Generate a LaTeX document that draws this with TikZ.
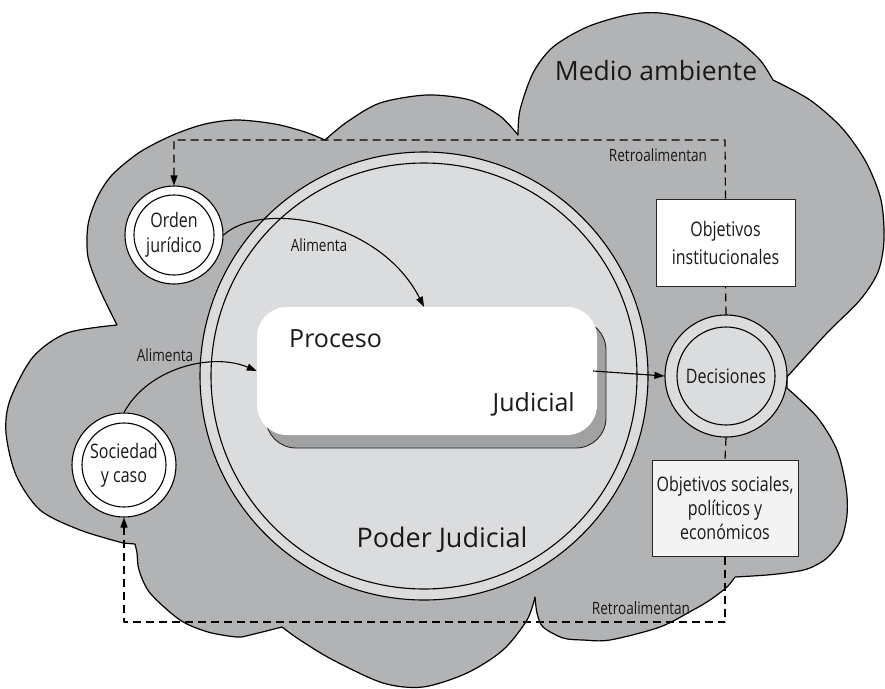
\documentclass[tikz,border=0pt]{standalone}
\usepackage{fontspec}
\setmainfont{Open Sans}
\newfontfamily\condfont{Open Sans}[FakeStretch=0.8]
\usetikzlibrary{arrows.meta,shadows}

\definecolor{cloudgray}{RGB}{178,179,181}
\definecolor{palegray}{RGB}{219,220,222}
\definecolor{shadowgray}{RGB}{160,161,163}
\definecolor{boxlight}{RGB}{243,243,243}
\definecolor{ink}{RGB}{25,25,25}

\begin{document}
\begin{tikzpicture}[x=1pt, y=-1pt, line join=round,
  outline/.style={draw=black, line width=1.1pt},
  ring/.style={circle, outline, inner sep=0pt},
  bigtxt/.style={font=\fontsize{25}{29}\selectfont, text=ink, inner sep=0pt},
  smalltxt/.style={font=\condfont\fontsize{20}{25}\selectfont, text=ink, align=center, inner sep=0pt},
  tinytxt/.style={font=\condfont\fontsize{17}{20}\selectfont, text=ink, inner sep=0pt},
  goalbox/.style={rectangle, draw=black!85, line width=1pt, align=center, inner sep=0pt,
    font=\condfont\fontsize{20}{25}\selectfont, text=ink},
  fb/.style={draw=black, line width=1.2pt, dash pattern=on 8pt off 5pt},
  tip/.style={-{Triangle[length=10pt,width=7pt]}},
  feed/.style={draw=black, line width=1.1pt, -{Triangle[length=10pt,width=7pt]}}]

\useasboundingbox (0,0) rectangle (885,688);

% environment cloud
\filldraw[fill=cloudgray, draw=black, line width=1.2pt]
  plot[smooth] coordinates {(117,325) (100,290) (88,257) (88,225) (97,198) (112,175) (140,152) (173,135) (205,124) (237,120) (275,124) (305,132) (325,140)}
  -- plot[smooth] coordinates {(325,140) (347,122) (380,103) (427,95) (470,100) (500,116) (518,135)}
  -- plot[smooth] coordinates {(518,135) (520,110) (533,73) (553,47) (587,27) (627,15) (660,13) (703,22) (737,40) (760,60) (773,80)}
  -- plot[smooth] coordinates {(773,80) (810,100) (842,128) (866,162) (881,200) (884,240) (878,272) (860,300) (827,333) (787,377)}
  -- plot[smooth] coordinates {(787,388) (817,417) (837,450) (846,487) (847,515) (841,540) (827,558) (810,568) (793,572) (767,575) (735,577)}
  -- plot[smooth] coordinates {(735,577) (727,587) (710,600) (693,610) (660,627) (610,640) (583,640) (563,638) (543,627) (537,613) (535,597)}
  -- plot[smooth] coordinates {(535,597) (527,620) (503,650) (467,673) (423,687) (383,683) (333,660) (300,640) (282,627)}
  -- plot[smooth] coordinates {(282,627) (250,635) (237,637) (208,632) (180,620) (150,593) (139,570) (137,553) (135,544)}
  -- plot[smooth] coordinates {(123,543) (80,530) (40,510) (16,475) (6,433) (10,400) (33,357) (67,333) (117,325)}
  -- cycle;

\node[bigtxt, font=\fontsize{26.5}{30}\selectfont, anchor=base] (medio) at (656,80) {Medio ambiente};

% judiciary
\node[ring, fill=palegray, minimum size=448pt] (poder) at (424,376) {};
\draw[line width=1.1pt] (poder.center) circle[radius=213pt];
\node[bigtxt, font=\fontsize{27}{30}\selectfont, anchor=base] (podertxt) at (442,547) {Poder Judicial};

% judicial process
\node[rectangle, rounded corners=30pt, fill=white, minimum width=340pt, minimum height=128pt,
  general shadow={shadow xshift=9pt, shadow yshift=-13pt, fill=shadowgray, draw=black!85, line width=0.9pt}]
  (proc) at (427,371) {};
\node[bigtxt, anchor=base west] (proctxt) at (289,347) {Proceso};
\node[bigtxt, anchor=base east] (judtxt) at (575,411) {Judicial};

% inputs and outputs
\node[ring, fill=white, minimum size=98pt, smalltxt] (orden) at (174,235) {Orden\\jurídico};
\draw[line width=1.1pt] (orden.center) circle[radius=40pt];
\node[ring, fill=white, minimum size=104pt, smalltxt, font=\condfont\fontsize{20}{24}\selectfont] (soc) at (124,465) {Sociedad\\y caso};
\draw[line width=1.1pt] (soc.center) circle[radius=42pt];
\node[ring, fill=palegray, minimum size=122pt, smalltxt] (decis) at (726,376) {Decisiones};
\draw[line width=1.1pt] (decis.center) circle[radius=49pt];

\node[goalbox, fill=white, minimum width=139pt, minimum height=87pt,
  font=\condfont\fontsize{20}{28}\selectfont] (objinst) at (725.5,242.5) {Objetivos\\institucionales};
\node[goalbox, fill=boxlight, minimum width=146pt, minimum height=96pt,
  font=\condfont\fontsize{20}{24}\selectfont] (objsoc) at (725,508) {Objetivos sociales,\\políticos y\\económicos};

% feedback loops
\coordinate (fbtop) at (725,140);
\coordinate (fbbot) at (725,622);
\draw[fb] (decis.north) -- (objinst.south);
\draw[fb, tip] (objinst.north) -- (fbtop) -| (orden.north);
\draw[fb] (decis.south) -- (objsoc.north);
\draw[fb, tip] (objsoc.south) -- (fbbot) -| (soc.south);
\node[tinytxt] (retro1) at (658,155) {Retroalimentan};
\node[tinytxt] (retro2) at (641,608) {Retroalimentan};

% feeding arrows
\draw[feed] (orden.east) .. controls (262,200) and (380,220) .. ([xshift=-3pt]proc.north);
\node[tinytxt] (alim1) at (319,245) {Alimenta};
\draw[feed] (soc.north) .. controls (148,368) and (212,352) .. (proc.west);
\node[tinytxt] (alim2) at (165,355) {Alimenta};
\draw[feed] ([xshift=-4pt]proc.east) -- (decis.west);
\end{tikzpicture}
\end{document}
